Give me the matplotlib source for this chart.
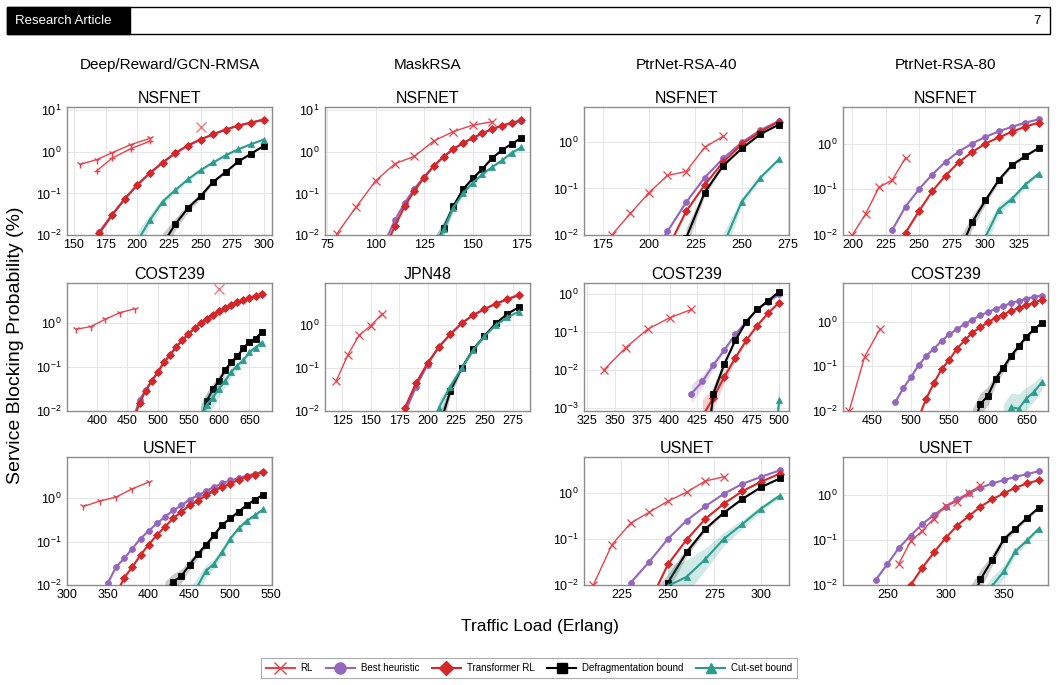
import numpy as np
import matplotlib
matplotlib.use("Agg")
import matplotlib.pyplot as plt
from matplotlib.ticker import MultipleLocator, LogLocator, NullLocator
from matplotlib.patches import Rectangle
from matplotlib.lines import Line2D

plt.rcParams['font.family'] = ['Liberation Sans', 'DejaVu Sans']
plt.rcParams['mathtext.fontset'] = 'custom'
plt.rcParams['mathtext.rm'] = 'Liberation Sans'
plt.rcParams['mathtext.it'] = 'Liberation Sans:italic'
plt.rcParams['mathtext.bf'] = 'Liberation Sans:bold'

# ------------------------------------------------------------------ DATA
COLUMN_TITLES = ["Deep/Reward/GCN-RMSA", "MaskRSA", "PtrNet-RSA-40", "PtrNet-RSA-80"]
SERIES_NAMES = ["RL", "Best heuristic", "Transformer RL", "Defragmentation bound", "Cut-set bound"]

# Row 1, col 1: NSFNET (Deep/Reward/GCN-RMSA)
A1_RL1_X = [155, 168, 180, 195, 210]
A1_RL1_Y = [0.5, 0.65, 0.95, 1.5, 2.1]
A1_RL2_X = [168, 180, 195, 210]
A1_RL2_Y = [0.35, 0.7, 1.2, 1.8]
A1_RL3_X = [250]
A1_RL3_Y = [4.0]
A1_BH_X = [170, 180, 190, 200, 210, 220, 230, 240, 250, 260, 270, 280, 290, 300]
A1_BH_Y = [0.012, 0.030, 0.073, 0.16, 0.31, 0.55, 0.93, 1.42, 1.98, 2.65, 3.44, 4.29, 5.06, 5.97]
A1_TR_X = [170, 180, 190, 200, 210, 220, 230, 240, 250, 260, 270, 280, 290, 300]
A1_TR_Y = [0.011, 0.030, 0.073, 0.16, 0.31, 0.55, 0.93, 1.42, 1.98, 2.65, 3.44, 4.29, 5.06, 5.97]
A1_DF_X = [220, 230, 240, 250, 260, 270, 280, 290, 300]
A1_DF_Y = [0.006, 0.018, 0.044, 0.086, 0.19, 0.33, 0.59, 0.91, 1.39]
A1_CS_X = [200, 210, 220, 230, 240, 250, 260, 270, 280, 290, 300]
A1_CS_Y = [0.007, 0.023, 0.063, 0.12, 0.217, 0.363, 0.555, 0.83, 1.16, 1.53, 1.98]

# Row 1, col 2: NSFNET (MaskRSA)
A2_RL_X = [80, 90, 100, 110, 120, 130, 140, 150, 160]
A2_RL_Y = [0.0105, 0.047, 0.2, 0.52, 0.78, 1.84, 3.06, 4.4, 5.3]
A2_BH_X = [105, 110, 115, 120, 125, 130, 135, 140, 145, 150, 155, 160, 165, 170, 175]
A2_BH_Y = [0.007, 0.023, 0.059, 0.13, 0.25, 0.46, 0.76, 1.17, 1.62, 2.14, 2.8, 3.5, 4.2, 4.9, 5.5]
A2_TR_X = [105, 110, 115, 120, 125, 130, 135, 140, 145, 150, 155, 160, 165, 170, 175]
A2_TR_Y = [0.005, 0.0166, 0.049, 0.116, 0.24, 0.46, 0.76, 1.17, 1.62, 2.14, 2.8, 3.55, 4.26, 5.0, 5.8]
A2_DF_X = [130, 135, 140, 145, 150, 155, 160, 165, 170, 175]
A2_DF_Y = [0.004, 0.0148, 0.049, 0.125, 0.23, 0.39, 0.71, 1.09, 1.56, 2.14]
A2_CS_X = [130, 135, 140, 145, 150, 155, 160, 165, 170, 175]
A2_CS_Y = [0.004, 0.0136, 0.045, 0.10, 0.18, 0.29, 0.43, 0.62, 0.94, 1.28]

# Row 1, col 3: NSFNET (PtrNet-RSA-40)
A3_RL_X = [180, 190, 200, 210, 220, 230, 240]
A3_RL_Y = [0.01, 0.029, 0.081, 0.19, 0.23, 0.76, 1.32]
A3_BH_X = [200, 210, 220, 230, 240, 250, 260, 270]
A3_BH_Y = [0.003, 0.012, 0.05, 0.17, 0.44, 0.97, 1.78, 2.8]
A3_TR_X = [210, 220, 230, 240, 250, 260, 270]
A3_TR_Y = [0.005, 0.032, 0.118, 0.37, 0.88, 1.64, 2.73]
A3_DF_X = [220, 230, 240, 250, 260, 270]
A3_DF_Y = [0.0085, 0.081, 0.31, 0.72, 1.46, 2.35]
A3_CS_X = [240, 250, 260, 270]
A3_CS_Y = [0.006, 0.052, 0.17, 0.42]

# Row 1, col 4: NSFNET (PtrNet-RSA-80)
A4_RL_X = [200, 210, 220, 230, 240]
A4_RL_Y = [0.01, 0.029, 0.11, 0.16, 0.49]
A4_BH_X = [230, 240, 250, 260, 270, 280, 290, 300, 310, 320, 330, 340]
A4_BH_Y = [0.013, 0.042, 0.1, 0.21, 0.4, 0.67, 1.0, 1.4, 1.84, 2.33, 2.86, 3.39]
A4_TR_X = [240, 250, 260, 270, 280, 290, 300, 310, 320, 330, 340]
A4_TR_Y = [0.0113, 0.033, 0.09, 0.2, 0.39, 0.65, 1.0, 1.36, 1.81, 2.34, 2.86]
A4_DF_X = [280, 290, 300, 310, 320, 330, 340]
A4_DF_Y = [0.004, 0.019, 0.057, 0.16, 0.34, 0.53, 0.8]
A4_CS_X = [300, 310, 320, 330, 340]
A4_CS_Y = [0.009, 0.036, 0.062, 0.127, 0.22]

# Row 2, col 1: COST239 (Deep/Reward/GCN-RMSA)
B1_RL1_X = [366, 390, 414, 438, 462]
B1_RL1_Y = [0.73, 0.84, 1.24, 1.76, 2.14]
B1_RL3_X = [600]
B1_RL3_Y = [5.9]
B1_BH_X = [460, 470, 480, 490, 500, 510, 520, 530, 540, 550, 560, 570, 580, 590, 600, 610, 620, 630, 640, 650, 660, 670]
B1_BH_Y = [0.007, 0.018, 0.030, 0.049, 0.077, 0.13, 0.19, 0.29, 0.41, 0.57, 0.77, 1.0, 1.28, 1.56, 1.86, 2.22, 2.56, 3.0, 3.39, 3.84, 4.2, 4.67]
B1_TR_X = [460, 470, 480, 490, 500, 510, 520, 530, 540, 550, 560, 570, 580, 590, 600, 610, 620, 630, 640, 650, 660, 670]
B1_TR_Y = [0.006, 0.0156, 0.029, 0.049, 0.077, 0.13, 0.19, 0.29, 0.41, 0.57, 0.77, 1.0, 1.28, 1.56, 1.86, 2.22, 2.56, 3.0, 3.39, 3.84, 4.2, 4.67]
B1_DF_X = [570, 580, 590, 600, 610, 620, 630, 640, 650, 660, 670]
B1_DF_Y = [0.006, 0.017, 0.031, 0.049, 0.084, 0.13, 0.176, 0.27, 0.38, 0.45, 0.62]
B1_CS_X = [570, 580, 590, 600, 610, 620, 630, 640, 650, 660, 670]
B1_CS_Y = [0.007, 0.014, 0.020, 0.032, 0.048, 0.077, 0.109, 0.143, 0.22, 0.28, 0.36]

# Row 2, col 2: JPN48 (MaskRSA)
B2_RL_X = [120, 130, 140, 150, 160]
B2_RL_Y = [0.051, 0.2, 0.58, 0.96, 1.8]
B2_BH_X = [180, 190, 200, 210, 220, 230, 240, 250, 260, 270, 280]
B2_BH_Y = [0.009, 0.037, 0.12, 0.31, 0.61, 1.1, 1.7, 2.36, 3.15, 4.0, 5.1]
B2_TR_X = [180, 190, 200, 210, 220, 230, 240, 250, 260, 270, 280]
B2_TR_Y = [0.0116, 0.045, 0.13, 0.31, 0.61, 1.1, 1.69, 2.34, 3.12, 3.95, 4.9]
B2_DF_X = [210, 220, 230, 240, 250, 260, 270, 280]
B2_DF_Y = [0.004, 0.029, 0.1, 0.27, 0.56, 1.1, 1.8, 2.6]
B2_CS_X = [210, 220, 230, 240, 250, 260, 270, 280]
B2_CS_Y = [0.012, 0.037, 0.1, 0.26, 0.55, 1.0, 1.5, 2.06]

# Row 2, col 3: COST239 (PtrNet-RSA-40)
B3_RL_X = [340, 360, 380, 400, 420]
B3_RL_Y = [0.01, 0.039, 0.12, 0.24, 0.4]
B3_BH_X = [420, 430, 440, 450, 460, 470, 480, 490, 500]
B3_BH_Y = [0.0024, 0.005, 0.0136, 0.034, 0.088, 0.19, 0.4, 0.64, 1.0]
B3_TR_X = [430, 440, 450, 460, 470, 480, 490, 500]
B3_TR_Y = [0.0006, 0.00185, 0.0066, 0.021, 0.061, 0.15, 0.32, 0.61]
B3_DF_X = [430, 440, 450, 460, 470, 480, 490, 500]
B3_DF_Y = [0.00001, 0.0024, 0.0145, 0.061, 0.19, 0.4, 0.68, 1.18]
B3_CS_X = [490, 500]
B3_CS_Y = [0.000001, 0.0016]

# Row 2, col 4: COST239 (PtrNet-RSA-80)
B4_RL_X = [420, 440, 460]
B4_RL_Y = [0.01, 0.163, 0.68]
B4_BH_X = [480, 490, 500, 510, 520, 530, 540, 550, 560, 570, 580, 590, 600, 610, 620, 630, 640, 650, 660, 670]
B4_BH_Y = [0.016, 0.032, 0.057, 0.105, 0.17, 0.25, 0.37, 0.52, 0.68, 0.89, 1.11, 1.37, 1.63, 1.94, 2.23, 2.61, 2.9, 3.27, 3.57, 3.83]
B4_TR_X = [510, 520, 530, 540, 550, 560, 570, 580, 590, 600, 610, 620, 630, 640, 650, 660, 670]
B4_TR_Y = [0.007, 0.019, 0.042, 0.087, 0.14, 0.25, 0.38, 0.57, 0.74, 0.97, 1.21, 1.44, 1.72, 2.0, 2.3, 2.66, 3.1]
B4_DF_X = [580, 590, 600, 610, 620, 630, 640, 650, 660, 670]
B4_DF_Y = [0.004, 0.014, 0.022, 0.052, 0.092, 0.17, 0.28, 0.46, 0.68, 0.93]
B4_CS_X = [620, 630, 640, 650, 660, 670]
B4_CS_Y = [0.005, 0.012, 0.0113, 0.019, 0.027, 0.044]

# Row 3, col 1: USNET (Deep/Reward/GCN-RMSA)
C1_RL1_X = [320, 340, 360, 380, 400]
C1_RL1_Y = [0.64, 0.85, 1.05, 1.64, 2.32]
C1_BH_X = [350, 360, 370, 380, 390, 400, 410, 420, 430, 440, 450, 460, 470, 480, 490, 500, 510, 520, 530, 540]
C1_BH_Y = [0.011, 0.026, 0.041, 0.069, 0.117, 0.175, 0.26, 0.37, 0.52, 0.68, 0.92, 1.15, 1.45, 1.79, 2.2, 2.54, 2.87, 3.3, 3.6, 4.08]
C1_TR_X = [360, 370, 380, 390, 400, 410, 420, 430, 440, 450, 460, 470, 480, 490, 500, 510, 520, 530, 540]
C1_TR_Y = [0.006, 0.0147, 0.026, 0.049, 0.085, 0.14, 0.22, 0.34, 0.48, 0.68, 0.85, 1.15, 1.45, 1.79, 2.13, 2.63, 3.0, 3.48, 3.94]
C1_DF_X = [420, 430, 440, 450, 460, 470, 480, 490, 500, 510, 520, 530, 540]
C1_DF_Y = [0.007, 0.012, 0.016, 0.029, 0.051, 0.083, 0.14, 0.245, 0.34, 0.49, 0.68, 0.92, 1.19]
C1_CS_X = [450, 460, 470, 480, 490, 500, 510, 520, 530, 540]
C1_CS_Y = [0.004, 0.0095, 0.021, 0.031, 0.058, 0.117, 0.2, 0.3, 0.4, 0.55]

# Row 3, col 3: USNET (PtrNet-RSA-40)
C3_RL_X = [210, 220, 230, 240, 250, 260, 270, 280]
C3_RL_Y = [0.01, 0.075, 0.22, 0.38, 0.66, 1.03, 1.8, 2.23]
C3_BH_X = [230, 240, 250, 260, 270, 280, 290, 300, 310]
C3_BH_Y = [0.0112, 0.032, 0.1, 0.25, 0.51, 0.95, 1.57, 2.23, 3.07]
C3_TR_X = [240, 250, 260, 270, 280, 290, 300, 310]
C3_TR_Y = [0.004, 0.028, 0.096, 0.27, 0.58, 1.09, 1.74, 2.6]
C3_DF_X = [240, 250, 260, 270, 280, 290, 300, 310]
C3_DF_Y = [0.002, 0.0112, 0.051, 0.164, 0.37, 0.74, 1.33, 2.05]
C3_CS_X = [250, 260, 270, 280, 290, 300, 310]
C3_CS_Y = [0.0095, 0.015, 0.036, 0.1, 0.21, 0.455, 0.87]

# Row 3, col 4: USNET (PtrNet-RSA-80)
C4_RL_X = [260, 270, 280, 290, 300, 310, 320, 330]
C4_RL_Y = [0.03, 0.093, 0.16, 0.3, 0.57, 0.71, 1.09, 1.66]
C4_BH_X = [240, 250, 260, 270, 280, 290, 300, 310, 320, 330, 340, 350, 360, 370, 380]
C4_BH_Y = [0.0129, 0.029, 0.067, 0.125, 0.225, 0.36, 0.55, 0.8, 1.09, 1.45, 1.81, 2.14, 2.54, 2.9, 3.39]
C4_TR_X = [260, 270, 280, 290, 300, 310, 320, 330, 340, 350, 360, 370, 380]
C4_TR_Y = [0.004, 0.01, 0.024, 0.053, 0.11, 0.21, 0.34, 0.55, 0.8, 1.09, 1.45, 1.81, 2.14]
C4_DF_X = [320, 330, 340, 350, 360, 370, 380]
C4_DF_Y = [0.003, 0.0133, 0.036, 0.103, 0.178, 0.31, 0.52]
C4_CS_X = [330, 340, 350, 360, 370, 380]
C4_CS_Y = [0.003, 0.0095, 0.02, 0.056, 0.098, 0.178]

# ------------------------------------------------------------------ STYLE
C_RL = '#e8424c'
C_BH = '#9467bd'
C_TR = '#d62728'
C_DF = '#000000'
C_CS = '#2a9d8f'

W, H = 1058, 685
fig = plt.figure(figsize=(W / 100, H / 100), dpi=100)

COL_LEFT = [67, 325, 584, 843]
AX_W = 205
ROW_TOP = [107, 283, 457]
AX_H = 128


def band(y, scale):
    y = np.asarray(y, dtype=float)
    h = np.clip(scale / np.sqrt(y), 0, 0.45)
    return y / 10 ** h, y * 10 ** h


def series(ax, x, y, color, marker, ms, lw=1.5, bscale=None, balpha=0.22, bcolor=None, z=2):
    if bscale is not None:
        lo, hi = band(y, bscale)
        ax.fill_between(x, lo, hi, color=bcolor or color, alpha=balpha, lw=0, zorder=z - 0.5)
    ax.plot(x, y, color=color, marker=marker, ms=ms, lw=lw, zorder=z,
            markeredgewidth=0.6, markeredgecolor=color)


def make_axes(r, c, title, xlim, ylim, xstep):
    left = COL_LEFT[c] / W
    bottom = 1 - (ROW_TOP[r] + AX_H) / H
    ax = fig.add_axes([left, bottom, AX_W / W, AX_H / H])
    ax.set_yscale('log')
    ax.set_xlim(*xlim)
    ax.set_ylim(*ylim)
    ax.xaxis.set_major_locator(MultipleLocator(xstep))
    ax.yaxis.set_major_locator(LogLocator(base=10, numticks=10))
    ax.yaxis.set_minor_locator(NullLocator())
    ax.grid(True, color='#e6e6e6', lw=0.7, zorder=0)
    ax.set_axisbelow(True)
    for s in ax.spines.values():
        s.set_color('#8c8c8c')
        s.set_linewidth(1.0)
    ax.tick_params(axis='both', labelsize=9, length=0)
    ax.tick_params(axis='x', pad=3)
    ax.tick_params(axis='y', pad=4)
    ax.set_title(title, fontsize=11.5, pad=3)
    return ax


def standard(ax, bh, tr, df, cs, rl=None, tb=0.004, dfb=0.02, csb=0.02):
    series(ax, bh[0], bh[1], C_BH, 'o', 4.2, bscale=tb, z=3)
    series(ax, tr[0], tr[1], C_TR, 'D', 4.0, bscale=tb, z=4)
    series(ax, df[0], df[1], C_DF, 's', 4.2, bscale=dfb, bcolor='#555555', balpha=0.3, z=5)
    series(ax, cs[0], cs[1], C_CS, '^', 4.2, bscale=csb, z=6)
    if rl is not None:
        ax.plot(rl[0], rl[1], color=C_RL, marker='x', ms=6, lw=1.0, mew=0.9, zorder=7)


# Row 1
ax = make_axes(0, 0, 'NSFNET', (144.5, 306.5), (1e-2, 12), 25)
standard(ax, (A1_BH_X, A1_BH_Y), (A1_TR_X, A1_TR_Y), (A1_DF_X, A1_DF_Y), (A1_CS_X, A1_CS_Y))
ax.plot(A1_RL1_X, A1_RL1_Y, color=C_RL, marker='1', ms=6, lw=1.0, zorder=7)
ax.plot(A1_RL2_X, A1_RL2_Y, color=C_RL, marker='+', ms=5, lw=1.0, zorder=7)
ax.plot(A1_RL3_X, A1_RL3_Y, color=C_RL, marker='x', ms=7, lw=0, alpha=0.7, zorder=7)

ax = make_axes(0, 1, 'NSFNET', (74, 179.5), (1e-2, 12), 25)
standard(ax, (A2_BH_X, A2_BH_Y), (A2_TR_X, A2_TR_Y), (A2_DF_X, A2_DF_Y), (A2_CS_X, A2_CS_Y),
         rl=(A2_RL_X, A2_RL_Y))

ax = make_axes(0, 2, 'NSFNET', (165, 275.5), (1e-2, 5.6), 25)
standard(ax, (A3_BH_X, A3_BH_Y), (A3_TR_X, A3_TR_Y), (A3_DF_X, A3_DF_Y), (A3_CS_X, A3_CS_Y),
         rl=(A3_RL_X, A3_RL_Y))

ax = make_axes(0, 3, 'NSFNET', (193, 347), (1e-2, 6.3), 25)
standard(ax, (A4_BH_X, A4_BH_Y), (A4_TR_X, A4_TR_Y), (A4_DF_X, A4_DF_Y), (A4_CS_X, A4_CS_Y),
         rl=(A4_RL_X, A4_RL_Y))

# Row 2
ax = make_axes(1, 0, 'COST239', (351, 687), (1e-2, 8.3), 50)
standard(ax, (B1_BH_X, B1_BH_Y), (B1_TR_X, B1_TR_Y), (B1_DF_X, B1_DF_Y), (B1_CS_X, B1_CS_Y),
         dfb=0.025, csb=0.03)
ax.plot(B1_RL1_X, B1_RL1_Y, color=C_RL, marker='1', ms=6, lw=1.0, zorder=7)
ax.plot(B1_RL3_X, B1_RL3_Y, color=C_RL, marker='x', ms=7, lw=0, alpha=0.7, zorder=7)

ax = make_axes(1, 1, 'JPN48', (110, 290), (1e-2, 9.5), 25)
standard(ax, (B2_BH_X, B2_BH_Y), (B2_TR_X, B2_TR_Y), (B2_DF_X, B2_DF_Y), (B2_CS_X, B2_CS_Y),
         rl=(B2_RL_X, B2_RL_Y))

ax = make_axes(1, 2, 'COST239', (322, 509), (8.3e-4, 2.0), 25)
standard(ax, (B3_BH_X, B3_BH_Y), (B3_TR_X, B3_TR_Y), (B3_DF_X, B3_DF_Y), (B3_CS_X, B3_CS_Y),
         rl=(B3_RL_X, B3_RL_Y), tb=0.012, dfb=0.01, csb=0.02)

ax = make_axes(1, 3, 'COST239', (412, 678), (1e-2, 7.3), 50)
standard(ax, (B4_BH_X, B4_BH_Y), (B4_TR_X, B4_TR_Y), (B4_DF_X, B4_DF_Y), (B4_CS_X, B4_CS_Y),
         rl=(B4_RL_X, B4_RL_Y), dfb=0.03, csb=0.035)

# Row 3
ax = make_axes(2, 0, 'USNET', (300, 551), (1e-2, 8.8), 50)
standard(ax, (C1_BH_X, C1_BH_Y), (C1_TR_X, C1_TR_Y), (C1_DF_X, C1_DF_Y), (C1_CS_X, C1_CS_Y))
ax.plot(C1_RL1_X, C1_RL1_Y, color=C_RL, marker='1', ms=6, lw=1.0, zorder=7)

ax = make_axes(2, 2, 'USNET', (205, 315), (1e-2, 6.0), 25)
standard(ax, (C3_BH_X, C3_BH_Y), (C3_TR_X, C3_TR_Y), (C3_DF_X, C3_DF_Y), (C3_CS_X, C3_CS_Y),
         rl=(C3_RL_X, C3_RL_Y), csb=0.045)

ax = make_axes(2, 3, 'USNET', (212, 388), (1e-2, 7.0), 50)
standard(ax, (C4_BH_X, C4_BH_Y), (C4_TR_X, C4_TR_Y), (C4_DF_X, C4_DF_Y), (C4_CS_X, C4_CS_Y),
         rl=(C4_RL_X, C4_RL_Y), dfb=0.025)

# Column titles
for c, t in enumerate(COLUMN_TITLES):
    fig.text((COL_LEFT[c] + AX_W / 2) / W, 1 - 65 / H, t, ha='center', va='center', fontsize=11)

# Axis labels
fig.text(16 / W, 1 - 345 / H, 'Service Blocking Probability (%)', rotation=90,
         ha='center', va='center', fontsize=14)
fig.text(540 / W, 1 - 627 / H, 'Traffic Load (Erlang)', ha='center', va='center', fontsize=12.5)

# Header
fig.add_artist(Rectangle((7 / W, 1 - 34 / H), 1043 / W, 27 / H, transform=fig.transFigure,
                         fill=False, edgecolor='black', lw=1.0))
fig.add_artist(Rectangle((7 / W, 1 - 34 / H), 123 / W, 27 / H, transform=fig.transFigure,
                         facecolor='black', edgecolor='black', lw=1.0))
fig.text(15 / W, 1 - 21 / H, 'Research Article', color='white', fontsize=9.5, ha='left', va='center')
fig.text(1041 / W, 1 - 21 / H, '7', color='black', fontsize=9.5, ha='right', va='center')

# Legend
handles = [
    Line2D([], [], color=C_RL, marker='x', ms=9, lw=1.5, mew=1.0),
    Line2D([], [], color=C_BH, marker='o', ms=8, lw=1.5),
    Line2D([], [], color=C_TR, marker='D', ms=7, lw=1.5),
    Line2D([], [], color=C_DF, marker='s', ms=7, lw=1.5),
    Line2D([], [], color=C_CS, marker='^', ms=7, lw=1.5),
]
leg = fig.legend(handles, SERIES_NAMES, loc='center', bbox_to_anchor=(529 / W, 1 - 668 / H),
                 ncol=5, fontsize=7, frameon=True, handlelength=3.0, columnspacing=1.3,
                 handletextpad=0.6, borderpad=0.5, fancybox=False)
leg.get_frame().set_edgecolor('#999999')
leg.get_frame().set_linewidth(0.8)

fig.savefig('out.png', dpi=100)
